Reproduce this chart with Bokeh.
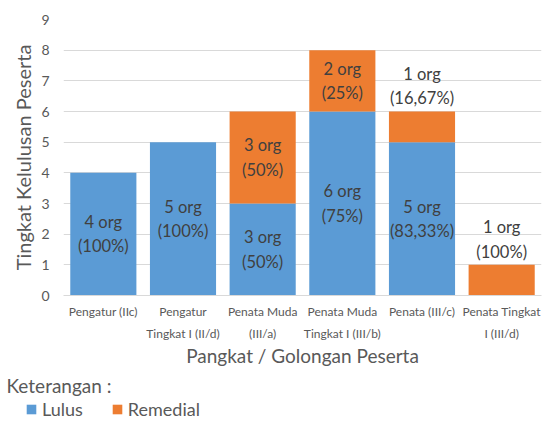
from bokeh.plotting import figure
from bokeh.models import ColumnDataSource, Legend, LegendItem, Label, FixedTicker, Range1d
from bokeh.layouts import column
from bokeh.core.properties import value
from bokeh.embed import file_html
from bokeh.resources import INLINE

categories = ["Pengatur (IIc)", "Pengatur\nTingkat I (II/d)", "Penata Muda\n(III/a)",
              "Penata Muda\nTingkat I (III/b)", "Penata (III/c)", "Penata Tingkat\nI (III/d)"]
lulus = [4, 5, 3, 6, 5, 0]
remedial = [0, 0, 3, 2, 1, 1]
lulus_labels = ["4 org\n(100%)", "5 org\n(100%)", "3 org\n(50%)", "6 org\n(75%)", "5 org\n(83,33%)", ""]
remedial_labels = ["", "", "3 org\n(50%)", "2 org\n(25%)", "1 org\n(16,67%)", "1 org\n(100%)"]
series_names = ["Lulus", "Remedial"]
y_ticks = [0, 1, 2, 3, 4, 5, 6, 7, 8, 9]

FONT = "Lato"
BLUE = "#5B9BD5"
ORANGE = "#ED7D31"
GREY = "#595959"
DARK = "#404040"

p = figure(x_range=categories, y_range=(0, 9), width=545, height=370,
           output_backend="svg", toolbar_location=None,
           min_border_left=63, min_border_right=4, min_border_top=19, min_border_bottom=75)
p.outline_line_color = None
p.frame_align = False

src = ColumnDataSource(dict(cat=categories, Lulus=lulus, Remedial=remedial))
rs = p.vbar_stack(series_names, x="cat", width=0.83, source=src,
                  color=[BLUE, ORANGE], line_color=None)

# data labels
in_x, in_y, in_t = [], [], []
out_x, out_y, out_t = [], [], []
for c, l, r, lt, rt in zip(categories, lulus, remedial, lulus_labels, remedial_labels):
    if l > 0 and lt:
        in_x.append(c); in_y.append(l / 2); in_t.append(lt)
    if r > 0 and rt:
        if r >= 1.5:
            in_x.append(c); in_y.append(l + r / 2); in_t.append(rt)
        else:
            out_x.append(c); out_y.append(l + r); out_t.append(rt)

p.text(x=in_x, y=in_y, text=in_t, text_align="center", text_baseline="middle",
       text_font=value(FONT), text_font_size="16.5px", text_color=DARK, text_line_height=1.22)
p.text(x=out_x, y=out_y, text=out_t, text_align="center", text_baseline="bottom",
       y_offset=-3, text_font=value(FONT), text_font_size="16.5px", text_color=DARK,
       text_line_height=1.22)

# axes
p.yaxis.ticker = FixedTicker(ticks=y_ticks)
p.yaxis.axis_line_color = None
p.yaxis.major_tick_line_color = None
p.yaxis.minor_tick_line_color = None
p.yaxis.major_tick_out = 0
p.yaxis.major_label_standoff = 14
p.yaxis.major_label_text_font = FONT
p.yaxis.major_label_text_font_size = "14px"
p.yaxis.major_label_text_color = GREY
p.yaxis.axis_label = "Tingkat Kelulusan Peserta"
p.yaxis.axis_label_text_font = FONT
p.yaxis.axis_label_text_font_size = "20px"
p.yaxis.axis_label_text_font_style = "normal"
p.yaxis.axis_label_text_color = GREY
p.yaxis.axis_label_standoff = 3

p.xaxis.axis_line_color = "#D9D9D9"
p.xaxis.axis_line_width = 1
p.xaxis.major_tick_line_color = None
p.xaxis.minor_tick_line_color = None
p.xaxis.major_tick_out = 0
p.xaxis.major_label_standoff = 8
p.xaxis.major_label_text_font = FONT
p.xaxis.major_label_text_font_size = "12px"
p.xaxis.major_label_text_line_height = 1.5
p.xaxis.major_label_text_color = GREY
p.xaxis.axis_label = "Pangkat / Golongan Peserta"
p.xaxis.axis_label_text_font = FONT
p.xaxis.axis_label_text_font_size = "19px"
p.xaxis.axis_label_text_font_style = "normal"
p.xaxis.axis_label_text_color = GREY
p.xaxis.axis_label_standoff = 0

p.xgrid.grid_line_color = None
p.ygrid.grid_line_color = "#D9D9D9"
p.ygrid.grid_line_width = 1

# legend strip below the chart
lg = figure(width=545, height=52, x_range=Range1d(0, 545), y_range=Range1d(52, 0),
            output_backend="svg", toolbar_location=None,
            x_axis_location=None, y_axis_location=None,
            min_border_left=0, min_border_right=0, min_border_top=0, min_border_bottom=0)
lg.frame_align = False
lg.outline_line_color = None
lg.xgrid.grid_line_color = None
lg.ygrid.grid_line_color = None
# zero-size proxy glyphs, used only for the legend swatches
lr = [lg.vbar(x=[0], top=[0], bottom=[0], width=0, color=c, line_color=None) for c in (BLUE, ORANGE)]
lg.add_layout(Label(x=6, y=15, text="Keterangan :", text_font=FONT, text_font_size="19px",
                    text_color=GREY, text_baseline="middle"))
legend = Legend(items=[LegendItem(label=n, renderers=[r]) for n, r in zip(series_names, lr)],
                orientation="horizontal", location=(25, 2),
                padding=0, margin=0, spacing=28, label_standoff=5,
                glyph_width=12, glyph_height=12, label_height=20,
                label_text_font=FONT, label_text_font_size="18px", label_text_color=GREY,
                border_line_color=None, background_fill_alpha=0)
lg.add_layout(legend)

open("out.html", "w").write(file_html(column(p, lg), INLINE))
